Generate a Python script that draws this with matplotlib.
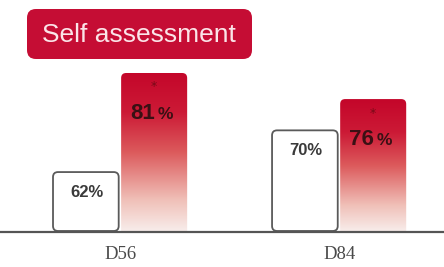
import matplotlib
matplotlib.use("Agg")
import matplotlib.pyplot as plt
import numpy as np
from matplotlib.patches import FancyBboxPatch
from matplotlib.colors import LinearSegmentedColormap

categories = ["D56", "D84"]
baseline_vals = [62, 70]
self_vals = [81, 76]
title = "Self assessment"

YMIN, YMAX = 50.5, 95.0
W = 0.306

fig = plt.figure(figsize=(4.44, 2.67), dpi=100)
ax = fig.add_axes([0, 0.131, 1, 0.869])
ax.set_xlim(-0.548, 1.479)
ax.set_ylim(YMIN, YMAX)
ax.axis("off")

rx = 5 / 219.0
aspect = (232 / (YMAX - YMIN)) ** -1 / (1 / 219.0)

cmap = LinearSegmentedColormap.from_list(
    "redfade",
    [(0.0, "#f8eeec"), (0.2, "#f0c0b8"), (0.5, "#dc5a5c"), (0.75, "#cc1a36"), (1.0, "#c4062a")])

x = np.arange(len(categories))
for i in range(len(categories)):
    # white bar
    bx = x[i] - W
    p = FancyBboxPatch((bx, YMIN + 0.2), W * 0.98, baseline_vals[i] - YMIN - 0.2,
                       boxstyle=f"round,pad=0,rounding_size={rx}",
                       mutation_aspect=aspect, fc="white", ec="#5a5a5a", lw=1.3, zorder=3)
    ax.add_patch(p)
    ax.annotate(f"{baseline_vals[i]}%", (x[i] - W / 2, baseline_vals[i]),
                xytext=(0, -20), textcoords="offset pixels", ha="center", va="center",
                fontsize=12, fontweight="bold", color="#3a3a3a",
                family="Liberation Sans", zorder=5)
    # red gradient bar
    rx0 = x[i] + 0.005
    rp = FancyBboxPatch((rx0, YMIN - 3), W * 0.985, self_vals[i] - YMIN + 3,
                        boxstyle=f"round,pad=0,rounding_size={rx}",
                        mutation_aspect=aspect, fc="none", ec="none", zorder=2)
    ax.add_patch(rp)
    grad = np.linspace(0, 1, 256).reshape(-1, 1)
    im = ax.imshow(grad, extent=[rx0, rx0 + W * 0.985, YMIN, self_vals[i]],
                   origin="lower", aspect="auto", cmap=cmap, zorder=2)
    im.set_clip_path(rp)
    ax.annotate("*", (x[i] + W / 2, self_vals[i]), xytext=(0, -14),
                textcoords="offset pixels", ha="center", va="center",
                fontsize=9, color="#7a0a18", zorder=5)
    ax.annotate(f"{self_vals[i]}", (x[i] + W / 2, self_vals[i]), xytext=(1, -46),
                textcoords="offset pixels", ha="right", va="baseline",
                fontsize=16, fontweight="bold", color="#3a1014",
                family="Liberation Sans", zorder=5)
    ax.annotate("%", (x[i] + W / 2, self_vals[i]), xytext=(4, -46),
                textcoords="offset pixels", ha="left", va="baseline",
                fontsize=12.5, fontweight="bold", color="#3a1014",
                family="Liberation Sans", zorder=5)
    # category label
    ax.annotate(categories[i], (x[i], YMIN), xytext=(0, -22),
                textcoords="offset pixels", ha="center", va="center",
                fontsize=13.5, color="#4a4a4a", family="Liberation Serif",
                annotation_clip=False)

ax.axhline(YMIN, color="#555555", lw=1.6, zorder=4, clip_on=False)

# title box
fig.patches.append(FancyBboxPatch((27 / 444, 1 - 59 / 267), 225 / 444, 50 / 267,
                                  boxstyle="round,pad=0,rounding_size=0.02",
                                  transform=fig.transFigure, fc="#c50d34", ec="none",
                                  mutation_aspect=444 / 267))
fig.text(139 / 444, 1 - 35 / 267, title, ha="center", va="center",
         fontsize=19, color="#fbe4e8", family="Liberation Sans")

fig.savefig("out.png", dpi=100)
